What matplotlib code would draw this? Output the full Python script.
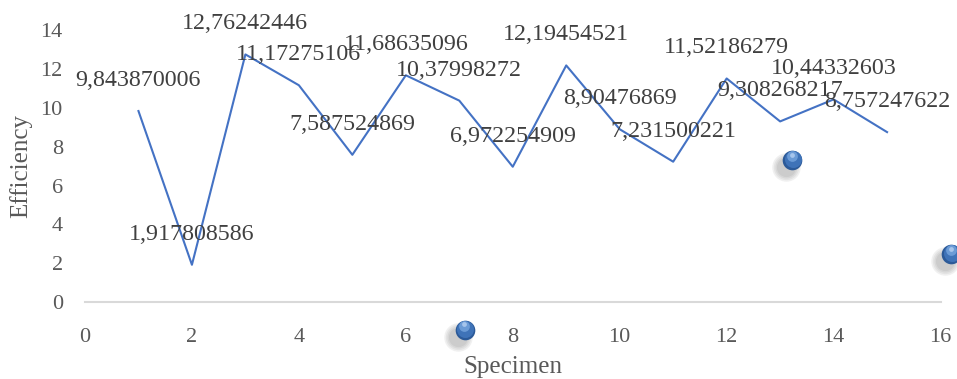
import numpy as np
import matplotlib.pyplot as plt

plt.rcParams['font.family'] = ['Liberation Serif', 'DejaVu Serif']

specimen = [1, 2, 3, 4, 5, 6, 7, 8, 9, 10, 11, 12, 13, 14, 15]
efficiency = [9.843870006, 1.917808586, 12.76242446, 11.17275106, 7.587524869,
              11.68635096, 10.37998272, 6.972254909, 12.19454521, 8.90476869,
              7.231500221, 11.52186279, 9.308268217, 10.44332603, 8.757247622]

# stray 3d ball markers in the original picture
ball_x = [7.1, 13.23, 16.2]
ball_y = [-1.44, 7.3, 2.47]

TXT = '#595959'
BLUE = '#4472C4'

fig = plt.figure(figsize=(9.57, 3.79), dpi=100)
ax = fig.add_axes([0.0888, 0.2032, 0.894, 0.7166])

ax.plot(specimen, efficiency, color=BLUE, lw=1.5, zorder=3)

for x, y in zip(specimen, efficiency):
    lab = '{:.10g}'.format(y).replace('.', ',')
    ax.annotate(lab, (x, y), xytext=(0, 22), textcoords='offset points',
                ha='center', va='center', fontsize=17.3, color='#404040', zorder=4)

# balls: blurred shadow, body, highlight
bx = np.array(ball_x)
by = np.array(ball_y)
for s in [420, 330, 250, 190]:
    ax.scatter(bx - 0.12, by - 0.35, s=s, color='#606060', alpha=0.09,
               linewidths=0, clip_on=False, zorder=5)
ax.scatter(bx, by, s=200, color='#2c5a98', linewidths=0, clip_on=False, zorder=6)
ax.scatter(bx + 0.01, by + 0.05, s=150, color='#3f73b8', linewidths=0, clip_on=False, zorder=7)
ax.scatter(bx - 0.01, by + 0.2, s=60, color='#6b9bd6', linewidths=0, clip_on=False, zorder=8)
ax.scatter(bx - 0.01, by + 0.28, s=12, color='#a6c5ec', linewidths=0, clip_on=False, zorder=9)

ax.set_xlim(0, 16)
ax.set_ylim(0, 14)
ax.set_xticks(np.arange(0, 17, 2))
ax.set_yticks(np.arange(0, 15, 2))
ax.tick_params(length=0, labelsize=16, labelcolor=TXT)
ax.tick_params(axis='y', pad=16)
ax.tick_params(axis='x', pad=19)

for s in ['top', 'right', 'left']:
    ax.spines[s].set_visible(False)
ax.spines['bottom'].set_color('#d9d9d9')
ax.spines['bottom'].set_linewidth(1.5)

ax.set_xlabel('Specimen', fontsize=18, color=TXT, labelpad=6)
ax.set_ylabel('Efficiency', fontsize=18, color=TXT, labelpad=6)

fig.savefig('out.png', dpi=100)
